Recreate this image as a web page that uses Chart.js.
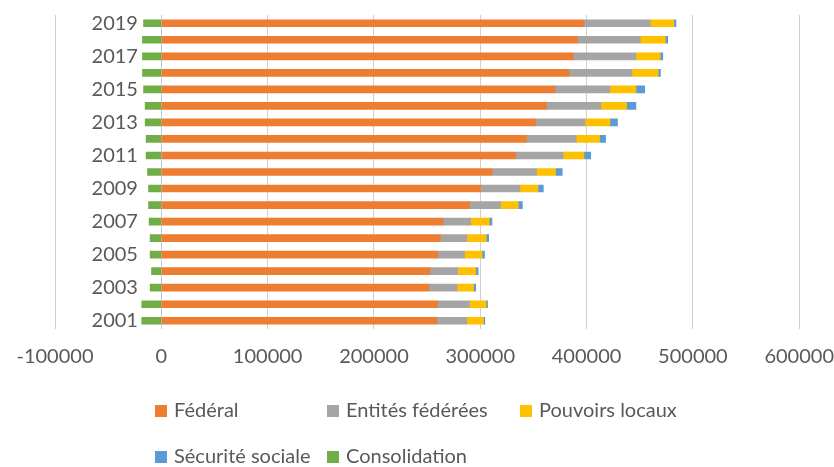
<!DOCTYPE html>
<html>
<head>
<meta charset="utf-8">
<script src="https://cdn.jsdelivr.net/npm/chart.js@4.4.0/dist/chart.umd.min.js"></script>
<style>
  html, body { margin: 0; padding: 0; background: #fff; }
  #wrap { width: 834px; height: 467px; }
</style>
</head>
<body>
<div id="wrap"><canvas id="bar-chart" width="834" height="467"></canvas></div>
<script>
var years = ["2001", "2002", "2003", "2004", "2005", "2006", "2007", "2008", "2009", "2010",
    "2011", "2012", "2013", "2014", "2015", "2016", "2017", "2018", "2019"];

var federal = [259000, 260000, 251700, 252700, 260000, 262400, 265000, 290100, 300100, 311100,
    333100, 343500, 352000, 362400, 370300, 383600, 387400, 391400, 397100];
var entites = [28300, 29900, 26400, 26100, 25100, 25000, 26000, 29000, 37200, 41800,
    44700, 46700, 46600, 51000, 51600, 59100, 59100, 59100, 62900];
var pouvoirs = [15700, 15700, 15700, 17000, 16700, 18300, 17500, 16700, 17000, 17900,
    19800, 22000, 23300, 24200, 24600, 24600, 22700, 23600, 22100];
var securite = [1300, 1300, 1900, 2200, 2200, 2200, 2500, 3800, 5000, 6300,
    6300, 5700, 7200, 8800, 8200, 2200, 2500, 2200, 1900];
var consolidation = [-18400, -18400, -10500, -9200, -10500, -10500, -11500, -12000, -12000, -13000,
    -14300, -14300, -15200, -15200, -16700, -17700, -17700, -17700, -16700];

var xTicks = [-100000, 0, 100000, 200000, 300000, 400000, 500000, 600000];

var textColor = "#595959";
var fontFamily = "Lato, 'Open Sans', sans-serif";

// legend laid out like the Excel one: fixed columns, two rows
var legendSlots = [[155, 411], [327, 411], [520, 411], [155, 457], [327, 457]];

var excelLegend = {
    id: "excelLegend",
    afterDraw: function (chart) {
        var ctx = chart.ctx;
        ctx.save();
        ctx.font = "20px " + fontFamily;
        ctx.textBaseline = "middle";
        ctx.textAlign = "left";
        chart.data.datasets.forEach(function (ds, i) {
            var p = legendSlots[i];
            ctx.fillStyle = ds.backgroundColor;
            ctx.fillRect(p[0], p[1] - 6, 12, 12);
            ctx.fillStyle = textColor;
            ctx.fillText(ds.label, p[0] + 19, p[1]);
        });
        ctx.restore();
    }
};

function makeSet(label, data, color) {
    return {
        label: label,
        data: data,
        backgroundColor: color,
        borderWidth: 0,
        barThickness: 7
    };
}

new Chart("bar-chart", {
    type: "bar",
    data: {
        labels: years,
        datasets: [
            makeSet("Fédéral", federal, "#ED7D31"),
            makeSet("Entités fédérées", entites, "#A5A5A5"),
            makeSet("Pouvoirs locaux", pouvoirs, "#FFC000"),
            makeSet("Sécurité sociale", securite, "#5B9BD5"),
            makeSet("Consolidation", consolidation, "#70AD47")
        ]
    },
    options: {
        indexAxis: "y",
        responsive: false,
        animation: false,
        layout: {
            padding: { left: 55, right: 0, top: 12, bottom: 98 }
        },
        plugins: {
            legend: { display: false },
            tooltip: { enabled: false }
        },
        scales: {
            x: {
                stacked: true,
                min: -100000,
                max: 600000,
                afterBuildTicks: function (axis) {
                    axis.ticks = xTicks.map(function (v) { return { value: v }; });
                },
                grid: {
                    color: function (c) { return c.tick && c.tick.value === 0 ? "#bfc7d3" : "#d0d0d0"; },
                    lineWidth: 1,
                    drawTicks: true,
                    tickLength: 16,
                    tickColor: "rgba(0,0,0,0)"
                },
                border: { display: false },
                ticks: {
                    color: textColor,
                    font: { family: fontFamily, size: 20 },
                    padding: 0,
                    maxRotation: 0,
                    callback: function (v) { return String(v); }
                }
            },
            y: {
                stacked: true,
                reverse: true,
                position: { x: -22000 },
                grid: { display: false },
                border: { display: false },
                ticks: {
                    color: textColor,
                    font: { family: fontFamily, size: 20 },
                    autoSkip: false,
                    callback: function (v, i) { return i % 2 === 0 ? years[i] : ""; }
                }
            }
        }
    },
    plugins: [excelLegend]
});
</script>
</body>
</html>
